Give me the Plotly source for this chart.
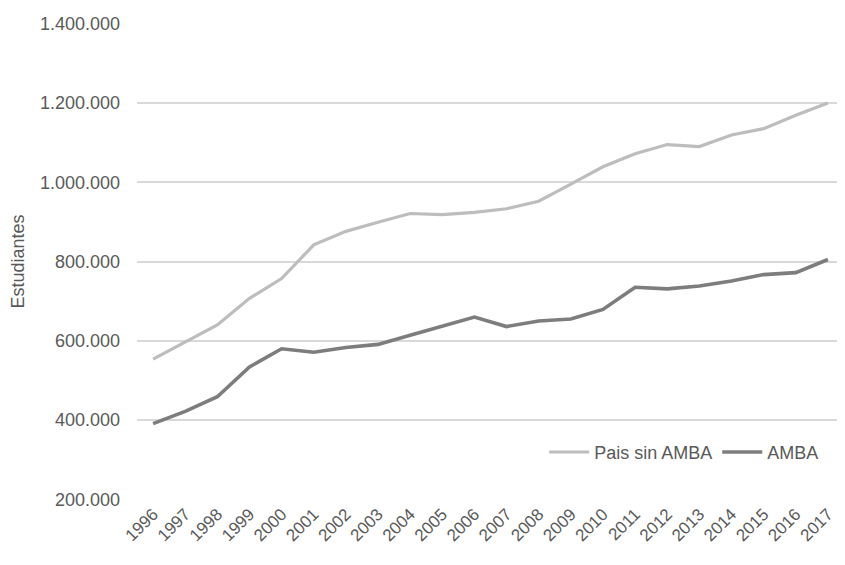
import plotly.graph_objects as go

years = [str(y) for y in range(1996, 2018)]
pais_sin_amba = [554000, 598000, 640000, 707000, 757000, 842000, 876000, 899000, 921000, 918000,
                 924000, 933000, 952000, 995000, 1039000, 1072000, 1095000, 1090000, 1119000,
                 1135000, 1169000, 1200000]
amba = [391000, 422000, 459000, 534000, 580000, 571000, 583000, 591000, 614000, 637000,
        660000, 636000, 650000, 655000, 679000, 735000, 731000, 738000, 751000, 767000,
        772000, 805000]

fig = go.Figure()
fig.add_trace(go.Scatter(x=years, y=pais_sin_amba, mode="lines", name="Pais sin AMBA",
                         line=dict(color="#bdbdbd", width=3.2)))
fig.add_trace(go.Scatter(x=years, y=amba, mode="lines", name="AMBA",
                         line=dict(color="#7d7d7d", width=3.6)))

font_family = "Liberation Sans, Arial, sans-serif"
fig.update_layout(
    width=837, height=557,
    margin=dict(l=129, r=1, t=15, b=65),
    paper_bgcolor="white", plot_bgcolor="white",
    separators=",.",
    font=dict(family=font_family, size=18, color="#595959"),
    showlegend=True,
    legend=dict(orientation="h", x=0.972, xanchor="right", y=0.10, yanchor="middle",
                bgcolor="rgba(0,0,0,0)", font=dict(size=18, color="#595959"),
                itemwidth=40, tracegroupgap=0),
    xaxis=dict(type="category", range=[-0.5, 21.5], tickangle=-45, showgrid=False,
               showline=False, ticks="", tickfont=dict(size=17, color="#595959"),
               automargin=False),
    yaxis=dict(range=[198500, 1401500], tickvals=[200000, 400000, 600000, 800000, 1000000, 1200000, 1400000],
               tickformat=",d", showgrid=True, gridcolor="#d9d9d9", gridwidth=2,
               zeroline=False, showline=False, ticks="", ticklabelstandoff=16,
               tickfont=dict(size=18, color="#595959"),
               title=dict(text="Estudiantes", font=dict(size=18, color="#595959"), standoff=14),
               automargin=False),
)

fig.write_html("out.html")
